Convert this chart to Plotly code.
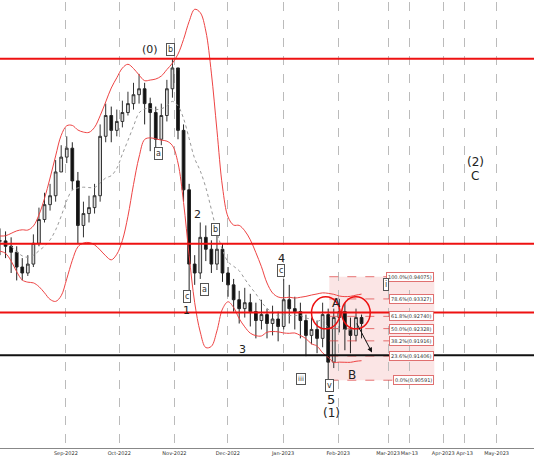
import pandas as pd
import plotly.graph_objects as go

# candle data (one candle per ~3 trading days)
start = "2022-07-26"
closes = [0.9528, 0.9510, 0.9490, 0.9440, 0.9420, 0.9450, 0.9520, 0.9600, 0.9650, 0.9680,
          0.9760, 0.9810, 0.9840, 0.9730, 0.9580, 0.9620, 0.9640, 0.9680, 0.9880, 0.9950,
          0.9900, 0.9930, 0.9960, 0.9990, 1.0020, 1.0040, 0.9990, 0.9960, 0.9870, 0.9950,
          1.0040, 1.0110, 0.9900, 0.9700, 0.9450, 0.9420, 0.9540, 0.9500, 0.9450, 0.9500,
          0.9420, 0.9380, 0.9330, 0.9300, 0.9320, 0.9290, 0.9260, 0.9280, 0.9250, 0.9265,
          0.9240, 0.9330, 0.9300, 0.9290, 0.9260, 0.9210, 0.9230, 0.9200, 0.9280, 0.9120,
          0.9270, 0.9290, 0.9230, 0.9210, 0.9270, 0.9250]
highs = [0.9570, 0.9560, 0.9540, 0.9510, 0.9470, 0.9480, 0.9550, 0.9640, 0.9690, 0.9720,
         0.9800, 0.9850, 0.9880, 0.9860, 0.9760, 0.9660, 0.9680, 0.9720, 0.9920, 0.9990,
         0.9980, 0.9970, 1.0000, 1.0030, 1.0060, 1.0090, 1.0060, 1.0010, 0.9980, 0.9990,
         1.0070, 1.0141, 1.0100, 0.9920, 0.9720, 0.9480, 0.9590, 0.9580, 0.9530, 0.9550,
         0.9520, 0.9440, 0.9400, 0.9360, 0.9370, 0.9350, 0.9320, 0.9330, 0.9300, 0.9310,
         0.9290, 0.9400, 0.9380, 0.9340, 0.9320, 0.9280, 0.9270, 0.9260, 0.9320, 0.9300,
         0.9300, 0.9333, 0.9320, 0.9270, 0.9300, 0.9280]
lows = [0.9480, 0.9470, 0.9420, 0.9395, 0.9395, 0.9410, 0.9440, 0.9510, 0.9590, 0.9630,
        0.9660, 0.9760, 0.9790, 0.9700, 0.9520, 0.9540, 0.9590, 0.9620, 0.9660, 0.9860,
        0.9860, 0.9880, 0.9910, 0.9950, 0.9970, 0.9990, 0.9920, 0.9830, 0.9820, 0.9850,
        0.9930, 1.0010, 0.9870, 0.9660, 0.9360, 0.9380, 0.9400, 0.9460, 0.9420, 0.9430,
        0.9390, 0.9340, 0.9290, 0.9250, 0.9270, 0.9240, 0.9200, 0.9230, 0.9200, 0.9210,
        0.9190, 0.9230, 0.9250, 0.9230, 0.9200, 0.9140, 0.9180, 0.9150, 0.9170, 0.9059,
        0.9100, 0.9220, 0.9160, 0.9150, 0.9190, 0.9200]

dates = pd.date_range(start, periods=len(closes), freq="75h")
df = pd.DataFrame({"date": dates, "close": closes, "high": highs, "low": lows})
df["open"] = df["close"].shift(1).fillna(df["close"])
mid = df["close"].rolling(8, min_periods=2).mean().bfill()
sd = df["close"].rolling(8, min_periods=2).std().bfill()
upper = (mid + 2 * sd).rolling(3, min_periods=1, center=True).mean()
lower = (mid - 2 * sd).rolling(3, min_periods=1, center=True).mean()

levels = [1.0141, 0.9518, 0.9287]
support = 0.9143
fib_pct = ["100.0%", "78.6%", "61.8%", "50.0%", "38.2%", "23.6%", "0.0%"]
fib_val = [0.94075, 0.93327, 0.92740, 0.92328, 0.91916, 0.91406, 0.90591]
fib_x0, fib_x1 = "2023-01-27", "2023-03-27"

waves = [("(0)", "2022-10-18", 1.0171, 11, False), ("b", "2022-10-30", 1.0171, 8, True),
         ("a", "2022-10-23", 0.9823, 8, True), ("2", "2022-11-14", 0.9618, 11, False),
         ("b", "2022-11-24", 0.9565, 8, True), ("a", "2022-11-18", 0.9364, 8, True),
         ("c", "2022-11-08", 0.9340, 8, True), ("1", "2022-11-08", 0.9293, 11, False),
         ("4", "2022-12-31", 0.9468, 11, False), ("c", "2022-12-31", 0.9428, 8, True),
         ("3", "2022-12-09", 0.9163, 11, False), ("5", "2023-01-28", 0.8995, 13, False),
         ("(1)", "2023-01-28", 0.8950, 12, False), ("A", "2023-01-31", 0.9318, 12, False),
         ("B", "2023-02-09", 0.9078, 12, False), ("(2)", "2023-04-19", 0.9795, 12, False),
         ("C", "2023-04-19", 0.9745, 12, False), ("i", "2023-02-28", 0.9381, 8, True),
         ("v", "2023-01-27", 0.9040, 8, True), ("iii", "2023-01-11", 0.9062, 7, True)]

fig = go.Figure()
fig.add_shape(type="rect", x0=fib_x0, x1=fib_x1, y0=fib_val[-1], y1=fib_val[0],
              fillcolor="rgba(240,150,150,0.25)", line_width=0, layer="below")
for v in fib_val:
    fig.add_shape(type="line", x0=fib_x0, x1=fib_x1, y0=v, y1=v,
                  line=dict(color="rgba(220,60,60,0.7)", width=1, dash="dash"))
for p, v in zip(fib_pct, fib_val):
    fig.add_annotation(x=fib_x1, y=v, text=f"{p}({v:.5f})", showarrow=False, xanchor="right",
                       font=dict(size=5, color="#333"), bgcolor="white",
                       bordercolor="#e07070", borderwidth=1, borderpad=1)

fig.add_trace(go.Scatter(x=df["date"], y=upper, mode="lines", line=dict(color="#ee4444", width=1, shape="spline")))
fig.add_trace(go.Scatter(x=df["date"], y=lower, mode="lines", line=dict(color="#ee4444", width=1, shape="spline")))
fig.add_trace(go.Scatter(x=df["date"], y=mid, mode="lines",
                         line=dict(color="#999", width=1, dash="dot", shape="spline")))
fig.add_trace(go.Candlestick(x=df["date"], open=df["open"], high=df["high"], low=df["low"],
                             close=df["close"], whiskerwidth=0,
                             increasing=dict(line=dict(color="#333", width=1), fillcolor="#ddd"),
                             decreasing=dict(line=dict(color="#222", width=1), fillcolor="#111")))

for v in levels:
    fig.add_hline(y=v, line=dict(color="#ee1111", width=2))
fig.add_hline(y=support, line=dict(color="#111", width=2))

for cx in ["2023-01-25", "2023-02-11"]:
    c = pd.Timestamp(cx)
    fig.add_shape(type="circle", x0=c - pd.Timedelta(days=8), x1=c + pd.Timedelta(days=8),
                  y0=0.9232, y1=0.9340, line=dict(color="#ee1111", width=1.5))
fig.add_annotation(x="2023-02-20", y=0.9152, ax="2023-02-11", ay=0.9255, axref="x", ayref="y",
                   showarrow=True, arrowhead=2, arrowsize=1, arrowwidth=1, arrowcolor="#111", text="")

for t, d, y, s, circ in waves:
    if circ:
        fig.add_annotation(x=d, y=y, text=t, showarrow=False, font=dict(size=s, color="#333"),
                           bgcolor="white", bordercolor="#555", borderwidth=1, borderpad=1)
    else:
        fig.add_annotation(x=d, y=y, text=t, showarrow=False, font=dict(size=s, color="#222"))

ticks = ["2022-09-01", "2022-10-01", "2022-11-01", "2022-12-01", "2023-01-01", "2023-02-01",
         "2023-03-01", "2023-03-13", "2023-04-01", "2023-04-13", "2023-05-01"]
tick_text = ["Sep-2022", "Oct-2022", "Nov-2022", "Dec-2022", "Jan-2023", "Feb-2023",
             "Mar-2023", "Mar-13", "Apr-2023", "Apr-13", "May-2023"]

fig.update_layout(width=534, height=462, margin=dict(l=0, r=0, t=2, b=14, autoexpand=False),
                  plot_bgcolor="white", paper_bgcolor="white", showlegend=False,
                  font=dict(family="DejaVu Sans", size=7, color="#333"))
fig.update_xaxes(range=["2022-07-26", "2023-05-22"], tickvals=ticks, ticktext=tick_text,
                 showgrid=True, gridcolor="#bbb", griddash="dash", gridwidth=1,
                 rangeslider_visible=False, ticks="", tickfont=dict(size=5), tickangle=0,
                 automargin=False, showline=True, linecolor="#888")
fig.update_yaxes(range=[0.8831, 1.0332], showticklabels=False, showgrid=False, automargin=False)
fig.write_html("out.html", config={"displayModeBar": False},
               post_script="document.body.style.margin='0px';")
